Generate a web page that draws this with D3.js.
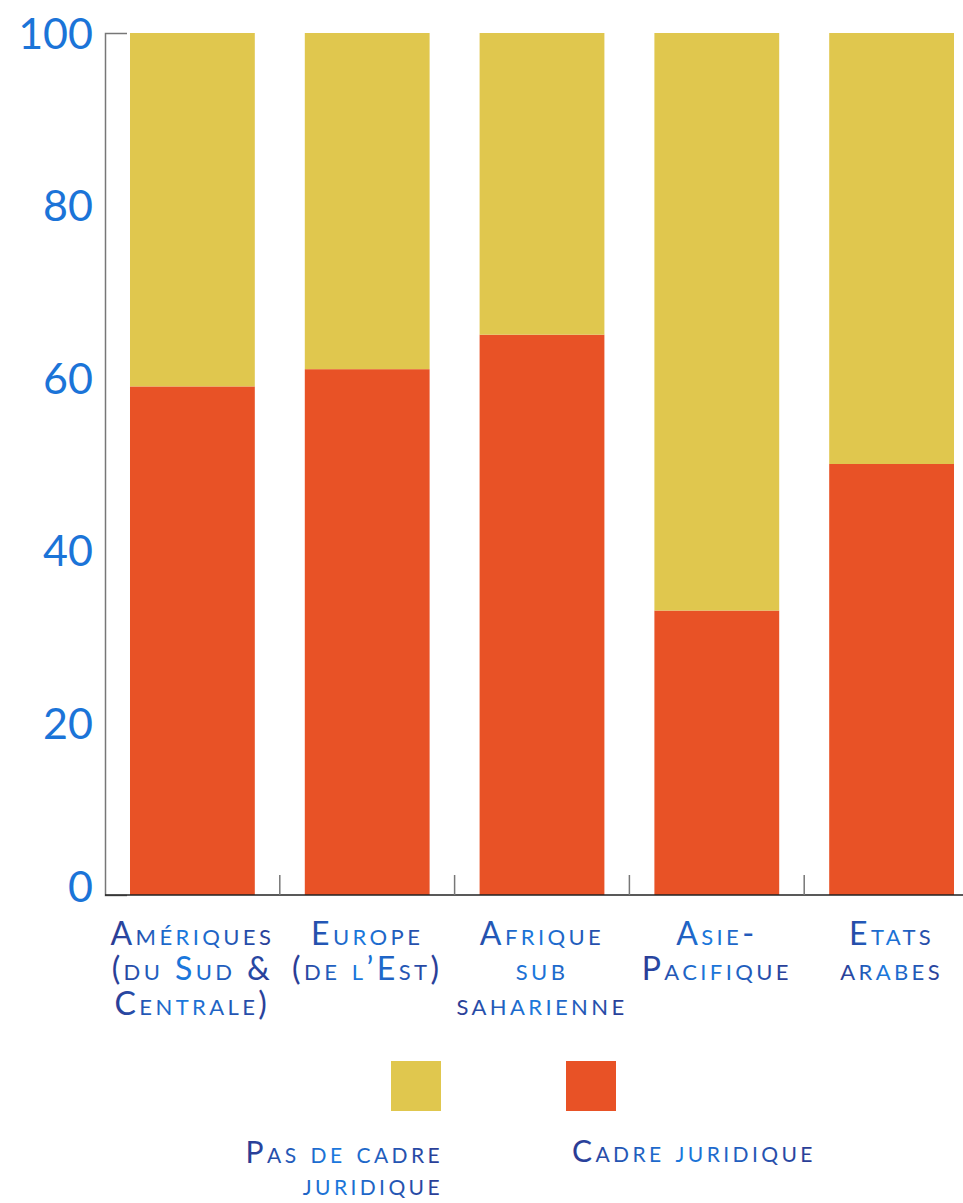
<!DOCTYPE html>
<html>
<head>
<meta charset="utf-8">
<script src="https://cdn.jsdelivr.net/npm/d3@7"></script>
<style>
  body { margin: 0; background: #fff; }
  svg text { font-family: Lato, "Open Sans", sans-serif; }
  .cat, .leg { font-variant: small-caps; letter-spacing: 3.4px; }
</style>
</head>
<body>
<svg id="chart"></svg>
<script>
const WIDTH = 963;
const HEIGHT = 1203;

const regions = ['Amériques', 'Europe', 'Afrique', 'Asie-Pacifique', 'Etats arabes'];
const regionLines = [
  ['Amériques', '(du Sud &', 'Centrale)'],
  ['Europe', '(de l’Est)'],
  ['Afrique', 'sub', 'saharienne'],
  ['Asie-', 'Pacifique'],
  ['Etats', 'arabes'],
];
const cadre    = [59, 61, 65, 33, 50];
const pasCadre = [41, 39, 35, 67, 50];
const yTicks   = [0, 20, 40, 60, 80, 100];

const seriesKeys   = ['cadre', 'pasCadre'];
const seriesNames  = { pasCadre: ['Pas de cadre', 'juridique'], cadre: ['Cadre juridique'] };
const seriesColors = { cadre: '#e85226', pasCadre: '#e0c74e' };

const rows = regions.map((r, i) => ({ region: r, cadre: cadre[i], pasCadre: pasCadre[i] }));
const stacked = d3.stack().keys(seriesKeys)(rows);

const margin = { top: 33, left: 105, bottom: 308 };

const x = d3.scaleBand()
  .domain(regions)
  .range([margin.left, 979])
  .paddingInner(0.286)
  .paddingOuter(0.143);

const y = d3.scaleLinear()
  .domain([0, 100])
  .range([HEIGHT - margin.bottom, margin.top]);

const svg = d3.select('#chart')
  .attr('width', WIDTH)
  .attr('height', HEIGHT);

// blue text shading
const grad = svg.append('defs').append('linearGradient')
  .attr('id', 'txt')
  .attr('x1', 0).attr('x2', 1).attr('y1', 0).attr('y2', 0);
grad.append('stop').attr('offset', '0%').attr('stop-color', '#2b3a92');
grad.append('stop').attr('offset', '45%').attr('stop-color', '#1b78de');
grad.append('stop').attr('offset', '100%').attr('stop-color', '#2b3a92');

// bars
svg.append('g')
  .selectAll('g')
  .data(stacked)
  .join('g')
  .attr('fill', d => seriesColors[d.key])
  .selectAll('rect')
  .data(d => d)
  .join('rect')
  .attr('x', d => x(d.data.region))
  .attr('width', x.bandwidth())
  .attr('y', d => y(d[1]))
  .attr('height', d => y(d[0]) - y(d[1]));

// y axis
const yAxis = svg.append('g')
  .attr('transform', `translate(${margin.left},0)`)
  .call(d3.axisLeft(y)
    .tickValues(yTicks)
    .tickSizeInner(0)
    .tickSizeOuter(-22)
    .tickPadding(12));
yAxis.select('.domain').attr('stroke', '#777').attr('stroke-width', 1.5);
yAxis.selectAll('text')
  .attr('fill', '#1b74d8')
  .attr('font-size', 43)
  .attr('dy', d => d === 0 ? '0.15em' : '0.36em');

// x axis, separators between regions
const step = x.step();
const xAxis = svg.append('g')
  .attr('transform', `translate(0,${y(0)})`)
  .call(d3.axisBottom(x).tickSizeInner(-20).tickSizeOuter(0));
xAxis.select('.domain')
  .attr('stroke', '#222')
  .attr('stroke-width', 1.5)
  .attr('d', `M${margin.left},0H${WIDTH}`);
xAxis.selectAll('.tick line')
  .attr('stroke', '#777')
  .attr('stroke-width', 1.5)
  .attr('x1', -step / 2)
  .attr('x2', -step / 2)
  .filter((d, i) => i === 0).remove();
xAxis.selectAll('.tick text').each(function (d, i) {
  const t = d3.select(this)
    .attr('class', 'cat')
    .attr('y', 50)
    .attr('dy', 0)
    .attr('font-size', 32)
    .attr('fill', 'url(#txt)')
    .text(null);
  regionLines[i].forEach((line, j) => {
    t.append('tspan').attr('x', 0).attr('dy', j === 0 ? 0 : 35).text(line);
  });
});

// legend
const legend = svg.append('g').attr('transform', 'translate(391,1061)');
const legendOrder = ['pasCadre', 'cadre'];
const lx = d3.scalePoint().domain(legendOrder).range([0, 175]);
const item = legend.selectAll('g')
  .data(legendOrder)
  .join('g')
  .attr('transform', d => `translate(${lx(d)},0)`);
item.append('rect')
  .attr('width', 50)
  .attr('height', 50)
  .attr('fill', d => seriesColors[d]);
item.append('text')
  .attr('class', 'leg')
  .attr('font-size', 30)
  .attr('fill', 'url(#txt)')
  .attr('text-anchor', d => d === 'pasCadre' ? 'end' : 'start')
  .attr('y', d => d === 'pasCadre' ? 102 : 101)
  .each(function (d) {
    const t = d3.select(this);
    const xx = d === 'pasCadre' ? 52 : 6;
    seriesNames[d].forEach((line, j) => {
      t.append('tspan').attr('x', xx).attr('dy', j === 0 ? 0 : 32).text(line);
    });
  });
</script>
</body>
</html>
